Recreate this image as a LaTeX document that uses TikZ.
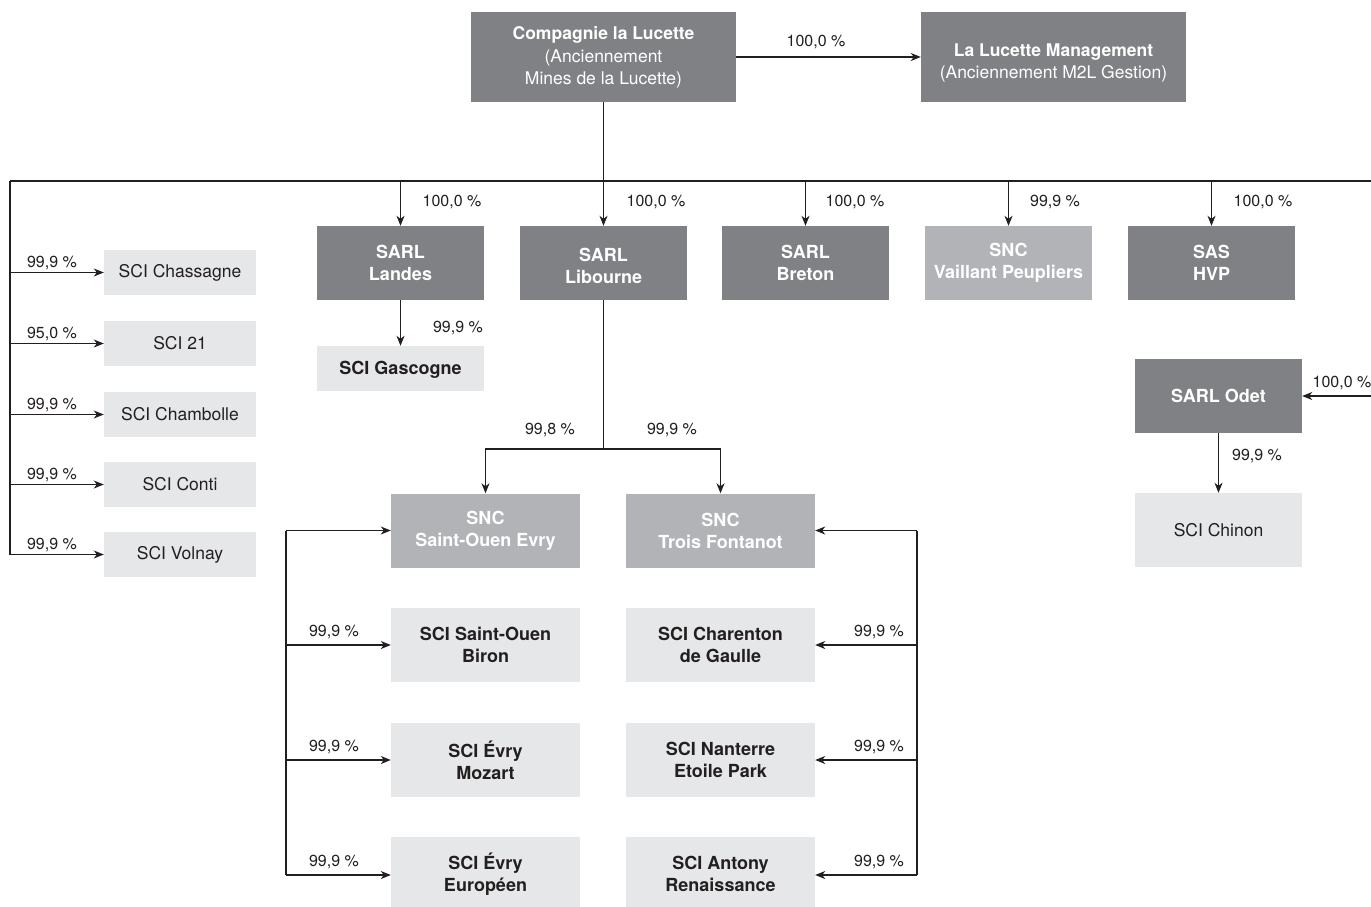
\documentclass[tikz,border=0pt]{standalone}
\usepackage{fontspec}
\setmainfont{TeX Gyre Heros}
\usetikzlibrary{arrows.meta}
\definecolor{dk}{HTML}{808184}
\definecolor{md}{HTML}{B1B3B6}
\definecolor{lt}{HTML}{E6E7E8}
\definecolor{ln}{HTML}{231F20}
\definecolor{tx}{HTML}{231F20}
\begin{document}
\begin{tikzpicture}[x=1pt,y=-1pt,
  box/.style={rectangle,inner sep=0pt,align=center,font=\fontsize{17.5}{22}\selectfont},
  bfont/.style={font=\fontsize{18}{22}\selectfont\bfseries},
  dbox/.style={box,fill=dk,text=white},
  dbbox/.style={box,fill=dk,text=white,bfont},
  mbox/.style={box,fill=md,text=white,bfont},
  lbox/.style={box,fill=lt,text=tx},
  lbbox/.style={box,fill=lt,text=tx,bfont},
  wide/.style={minimum width=167pt,minimum height=74pt},
  sci/.style={minimum width=152pt,minimum height=45pt},
  snc/.style={minimum width=189pt,minimum height=74pt},
  pct/.style={font=\fontsize{16}{18}\selectfont,text=tx,inner sep=0pt},
  conn/.style={draw=ln,line width=1.2pt},
  arr/.style={conn,-{Stealth[length=10pt,width=8pt,inset=3pt]}}]
\useasboundingbox (0,0) rectangle (1371,906);
% top
\node[dbox,minimum width=265pt,minimum height=90pt] (cl) at (603.5,57)
  {\textbf{Compagnie la Lucette}\\[1pt](Anciennement\\Mines de la Lucette)};
\node[dbox,minimum width=265pt,minimum height=90pt] (lm) at (1053.5,57)
  {\rule{0pt}{25pt}\textbf{La Lucette Management}\\(Anciennement M2L Gestion)};
\draw[arr] (cl.east) -- (lm.west);
\node[pct] (p0) at (816,42) {100,0 \%};
% row of subsidiaries
\node[dbbox,wide] (landes) at (400.5,263) {SARL\\Landes};
\node[dbbox,wide] (lib) at (603.5,263) {\rule{0pt}{20pt}SARL\\Libourne};
\node[dbbox,wide] (bre) at (805.5,263) {SARL\\Breton};
\node[mbox,wide] (vp) at (1008.5,263) {SNC\\Vaillant Peupliers};
\node[dbbox,wide] (hvp) at (1211.5,263) {SAS\\HVP};
\coordinate (hl) at (10,181);
\coordinate (hr) at (1371,181);
\coordinate (hm) at (603.5,181);
\draw[conn] (cl.south) -- (hm);
\draw[conn] (hl) -- (hr);
\draw[arr] (landes.north |- hm) -- (landes.north);
\draw[arr] (lib.north |- hm) -- (lib.north);
\draw[arr] (bre.north |- hm) -- (bre.north);
\draw[arr] (vp.north |- hm) -- (vp.north);
\draw[arr] (hvp.north |- hm) -- (hvp.north);
\node[pct] (p1) at (452,202) {100,0 \%};
\node[pct] (p2) at (656,202) {100,0 \%};
\node[pct] (p3) at (855,202) {100,0 \%};
\node[pct] (p4) at (1055,202) {99,9 \%};
\node[pct] (p5) at (1263,202) {100,0 \%};
% Gascogne
\node[lbbox,wide,minimum height=45pt] (gas) at (400.5,368.5) {\rule{0pt}{16pt}SCI Gascogne};
\draw[arr] (landes.south) -- (gas.north);
\node[pct] (p6) at (458,328) {99,9 \%};
% left column
\node[lbox,sci] (cha) at (180,272.5) {SCI Chassagne};
\node[lbox,sci] (s21) at (180,343.5) {SCI 21};
\node[lbox,sci] (chb) at (180,414.5) {SCI Chambolle};
\node[lbox,sci] (con) at (180,484.5) {SCI Conti};
\node[lbox,sci] (vol) at (180,554.5) {SCI Volnay};
\coordinate (lb) at (10,554.5);
\draw[conn] (hl) -- (lb);
\draw[arr] (hl |- cha.west) -- (cha.west);
\draw[arr] (hl |- s21.west) -- (s21.west);
\draw[arr] (hl |- chb.west) -- (chb.west);
\draw[arr] (hl |- con.west) -- (con.west);
\draw[arr] (lb) -- (vol.west);
\node[pct] (q1) at (52,263) {99,9 \%};
\node[pct] (q2) at (52,334) {95,0 \%};
\node[pct] (q3) at (52,405) {99,9 \%};
\node[pct] (q4) at (52,475) {99,9 \%};
\node[pct] (q5) at (52,545) {99,9 \%};
% Libourne subtree
\node[mbox,snc] (soe) at (485.5,530.5) {SNC\\Saint-Ouen Evry};
\node[mbox,snc] (tf) at (720.5,530.5) {SNC\\Trois Fontanot};
\coordinate (lj) at (603.5,449);
\draw[conn] (lib.south) -- (lj);
\draw[arr] (lj) -| (soe.north);
\draw[arr] (lj) -| (tf.north);
\node[pct] (p7) at (550,430) {99,8 \%};
\node[pct] (p8) at (672,430) {99,9 \%};
% SCI left/right
\node[lbbox,snc] (sob) at (485.5,645) {SCI Saint-Ouen\\Biron};
\node[lbbox,snc] (evm) at (485.5,760) {SCI Évry\\Mozart};
\node[lbbox,snc] (eve) at (485.5,874) {SCI Évry\\Européen};
\node[lbbox,snc] (cdg) at (720.5,645) {SCI Charenton\\de Gaulle};
\node[lbbox,snc] (nep) at (720.5,760) {SCI Nanterre\\Etoile Park};
\node[lbbox,snc] (ant) at (720.5,874) {SCI Antony\\Renaissance};
\coordinate (la) at (286,530.5);
\coordinate (lz) at (286,875);
\coordinate (ra) at (917,530.5);
\coordinate (rz) at (917,875);
\draw[conn] (la) -- (lz);
\draw[conn] (ra) -- (rz);
\draw[arr] (la) -- (soe.west);
\draw[arr] (la |- sob.west) -- (sob.west);
\draw[arr] (la |- evm.west) -- (evm.west);
\draw[arr] (lz) -- (eve.west |- lz);
\draw[arr] (ra) -- (tf.east);
\draw[arr] (ra |- cdg.east) -- (cdg.east);
\draw[arr] (ra |- nep.east) -- (nep.east);
\draw[arr] (rz) -- (ant.east |- rz);
\node[pct] (r1) at (334,632) {99,9 \%};
\node[pct] (r2) at (334,747) {99,9 \%};
\node[pct] (r3) at (334,862) {99,9 \%};
\node[pct] (r4) at (879,632) {99,9 \%};
\node[pct] (r5) at (879,747) {99,9 \%};
\node[pct] (r6) at (879,862) {99,9 \%};
% Odet
\node[dbbox,wide] (odet) at (1218.5,396) {SARL Odet};
\node[lbox,wide] (chi) at (1218.5,530) {SCI Chinon};
\coordinate (oe) at (1371,396);
\draw[arr] (oe) -- (odet.east);
\draw[arr] (odet.south) -- (chi.north);
\node[pct] (p9) at (1342,383) {100,0 \%};
\node[pct] (p10) at (1257,456) {99,9 \%};
\end{tikzpicture}
\end{document}
